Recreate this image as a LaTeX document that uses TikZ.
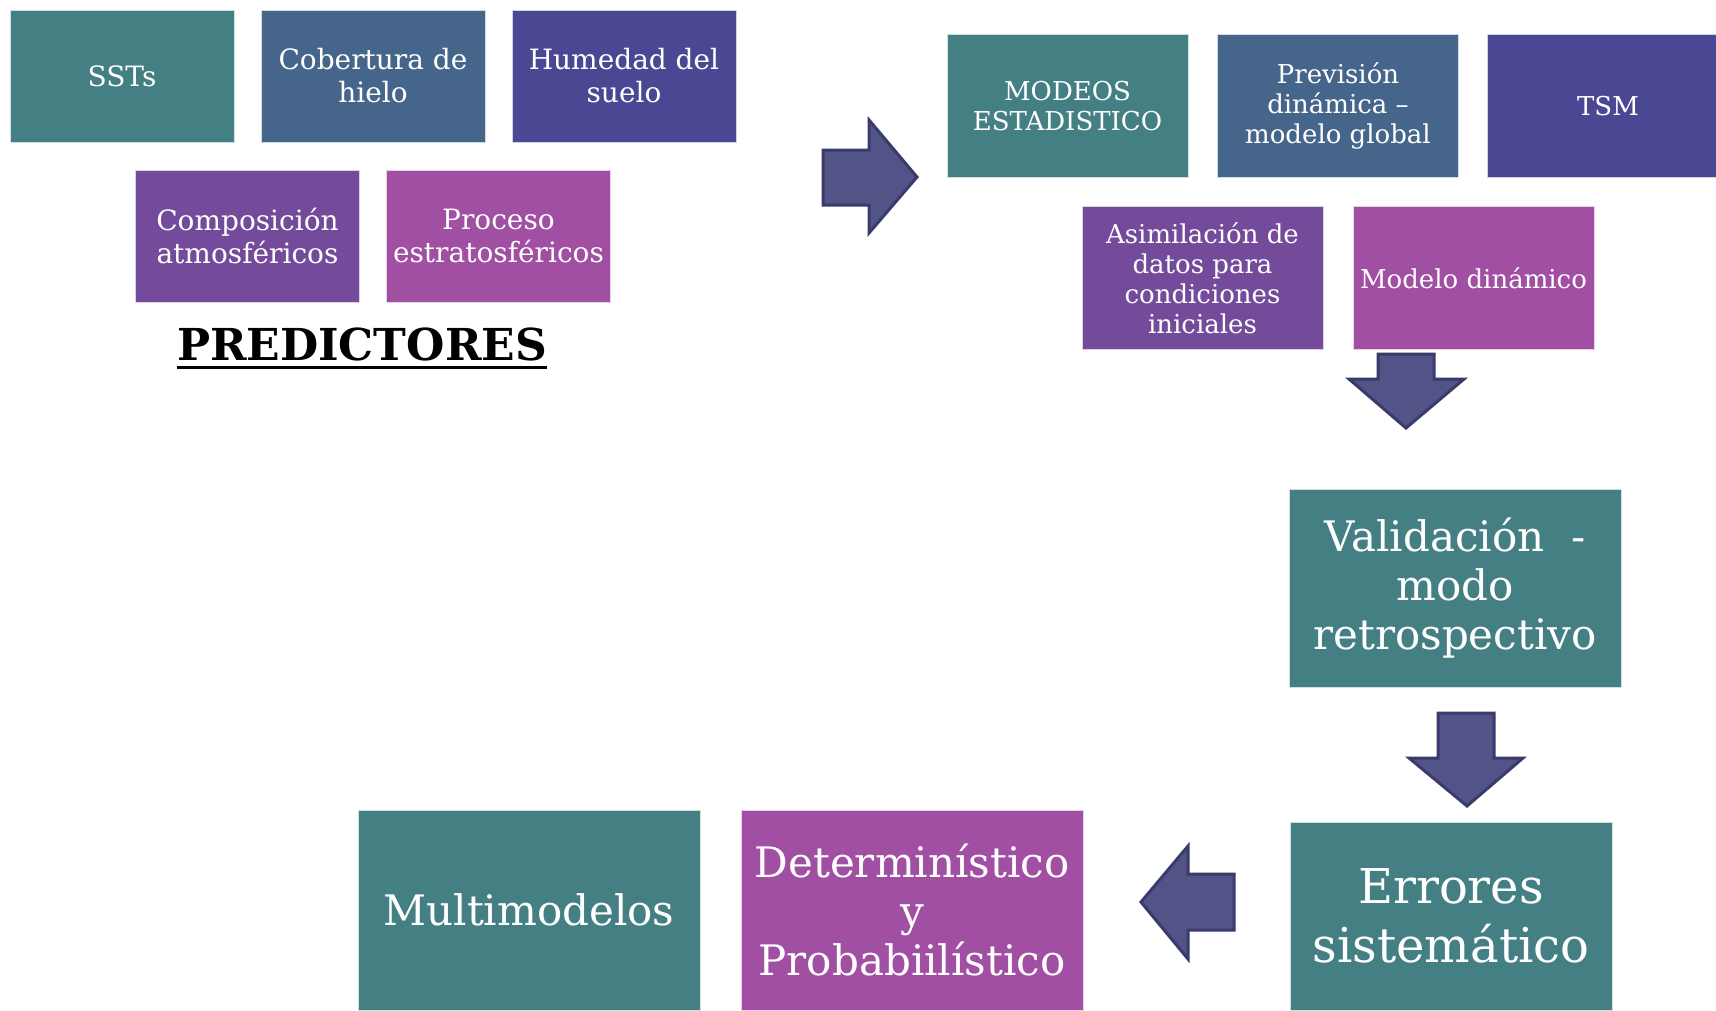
\documentclass[tikz,border=0pt]{standalone}
\usepackage{fontspec}
\setmainfont{DejaVu Serif}
\definecolor{tealbox}{HTML}{447F83}
\definecolor{steelbox}{HTML}{46658A}
\definecolor{indigobox}{HTML}{4B4893}
\definecolor{purplebox}{HTML}{744B9A}
\definecolor{magentabox}{HTML}{A04FA2}
\definecolor{arrowfill}{HTML}{525488}
\definecolor{arrowline}{HTML}{3A3A6B}
\tikzset{
  box/.style={fill=#1, draw=white!75!#1, line width=0.8pt, text=white, align=center, inner sep=2pt},
  smallbox/.style={box=#1, minimum width=224pt, minimum height=132pt, font=\fontsize{28}{33}\selectfont},
  midbox/.style={box=#1, minimum width=241pt, minimum height=143pt, font=\fontsize{26}{30}\selectfont},
  bigbox/.style={box=#1, minimum width=342pt, minimum height=200pt, font=\fontsize{42}{49}\selectfont},
  blockarrow/.style={fill=arrowfill, draw=arrowline, line width=3pt, line join=miter}
}
\begin{document}
\begin{tikzpicture}[x=1pt, y=-1pt]
  \useasboundingbox[fill=white] (0,0) rectangle (1716,1010);
  % predictores
  \node[smallbox=tealbox] (sst) at (122,76) {SSTs};
  \node[smallbox=steelbox] (hielo) at (373,76) {Cobertura de\\hielo};
  \node[smallbox=indigobox] (suelo) at (624,76) {Humedad del\\suelo};
  \node[smallbox=purplebox] (comp) at (247.5,236) {Composición\\atmosféricos};
  \node[smallbox=magentabox] (estrat) at (498.5,236) {Proceso\\estratosféricos};
  \node[anchor=base, inner sep=0pt, font=\fontsize{44}{49}\selectfont\bfseries] (pred) at (362,360) {PREDICTORES};
  \draw[line width=3pt] ([yshift=-7pt]pred.base west) -- ([yshift=-7pt]pred.base east);
  % modelos
  \node[midbox=tealbox] (modeos) at (1067.5,106) {MODEOS\\ESTADISTICO};
  \node[midbox=steelbox] (prevision) at (1338,106) {Previsión\\dinámica --\\modelo global};
  \node[midbox=indigobox] (tsm) at (1608,106) {TSM};
  \node[midbox=purplebox] (asim) at (1202.5,278) {Asimilación de\\datos para\\condiciones\\iniciales};
  \node[midbox=magentabox] (modelo) at (1473.5,278) {Modelo dinámico};
  % salida
  \node[bigbox=tealbox, minimum width=332pt, minimum height=198pt] (valid) at (1455,588.5) {Validación~ -\\modo\\retrospectivo};
  \node[bigbox=tealbox, minimum width=322pt, minimum height=188pt, font=\fontsize{48}{59}\selectfont] (errores) at (1451,916) {Errores\\sistemático};
  \node[bigbox=tealbox] (multi) at (529,910) {Multimodelos};
  \node[bigbox=magentabox] (determ) at (912,910) {Determinístico\\y\\Probabiilístico};
  % flechas
  \draw[blockarrow] (823,150) -- (869,150) -- (869,120) -- (917,177) -- (869,233) -- (869,205) -- (823,205) -- cycle;
  \draw[blockarrow] (1378,354) -- (1434,354) -- (1434,379) -- (1464,379) -- (1406,428) -- (1349,379) -- (1378,379) -- cycle;
  \draw[blockarrow] (1438,713) -- (1494,713) -- (1494,758) -- (1523,758) -- (1467,806) -- (1409,758) -- (1438,758) -- cycle;
  \draw[blockarrow] (1234,874) -- (1234,930) -- (1188,930) -- (1188,959) -- (1141,902) -- (1188,846) -- (1188,874) -- cycle;
\end{tikzpicture}
\end{document}
